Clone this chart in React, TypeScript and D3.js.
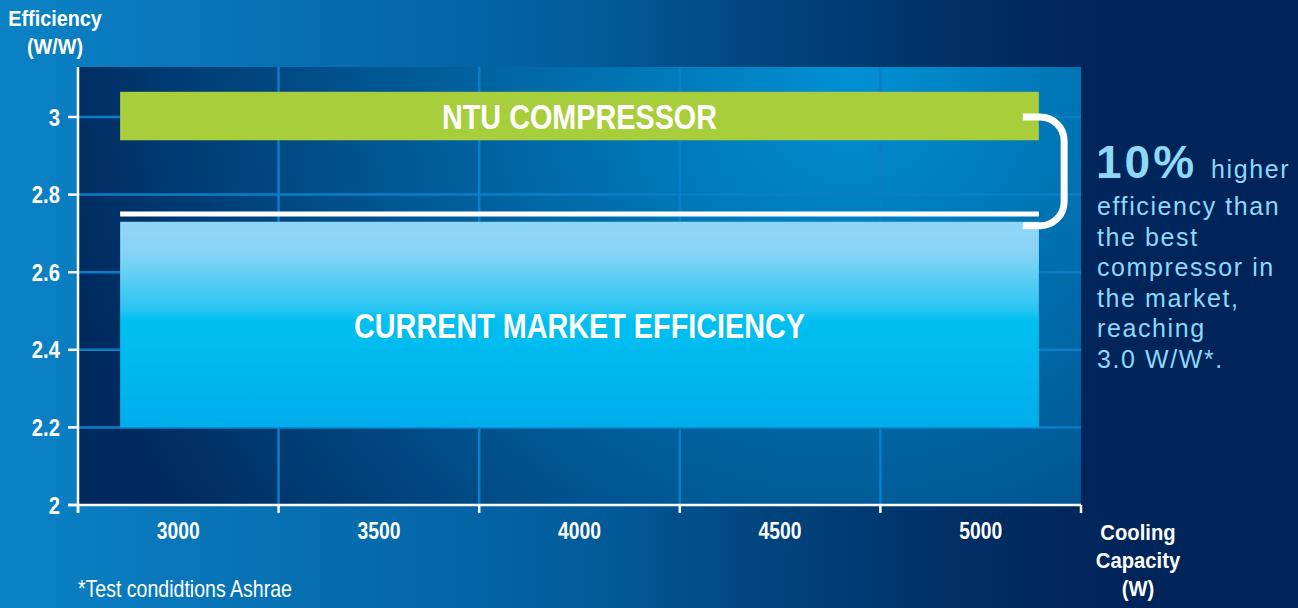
import * as d3 from "d3";
import React from "react";

// chart values
const xEdges = [2750, 3250, 3750, 4250, 4750, 5250]; // tick marks / grid
const xLabels = [3000, 3500, 4000, 4500, 5000];
const yTicks = [2, 2.2, 2.4, 2.6, 2.8, 3];
const barNames = ["CURRENT MARKET EFFICIENCY", "NTU COMPRESSOR"];
const barLow = [2.2, 2.94];
const barHigh = [2.73, 3.065];
const barFrom = [2855, 2855];
const barTo = [5145, 5145];
const bestMarket = 2.75;
const bracketTop = 3.0;
const bracketBottom = 2.72;
const noteLines = [
  "efficiency than",
  "the best",
  "compressor in",
  "the market,",
  "reaching",
  "3.0 W/W*.",
];

const W = 1298;
const H = 608;
const margin = { l: 78, r: 217, t: 67, b: 103 };
const font = "'Liberation Sans', Arial, sans-serif";

// condensed text: no narrow face installed, so squeeze horizontally
function Cond(props: {
  x: number;
  y: number;
  sx: number;
  size: number;
  anchor?: string;
  bold?: boolean;
  children: React.ReactNode;
}) {
  return (
    <text
      transform={`translate(${props.x},${props.y}) scale(${props.sx},1)`}
      textAnchor={props.anchor || "start"}
      fill="#fff"
      fontFamily={font}
      fontWeight={props.bold === false ? "normal" : "bold"}
      fontSize={props.size}
    >
      {props.children}
    </text>
  );
}

export default function App() {
  const x = d3.scaleLinear().domain([2750, 5250]).range([margin.l, W - margin.r]);
  const y = d3.scaleLinear().domain([2, 3]).range([H - margin.b, 117]);
  const plotTop = margin.t;
  const plotBottom = y(2);

  const bx0 = x(5105);
  const bx1 = x(5208);
  const by0 = y(bracketTop);
  const by1 = y(bracketBottom);
  const rad = 24;
  const bracket = d3.path();
  bracket.moveTo(bx0, by0);
  bracket.lineTo(bx1 - rad, by0);
  bracket.arcTo(bx1, by0, bx1, by0 + rad, rad);
  bracket.lineTo(bx1, by1 - rad);
  bracket.arcTo(bx1, by1, bx1 - rad, by1, rad);
  bracket.lineTo(bx0, by1);

  return (
    <svg width={W} height={H} style={{ display: "block", position: "absolute", left: 0, top: 0 }}>
      <defs>
        <linearGradient id="page-bg" x1="0" y1="0" x2="1" y2="0">
          <stop offset="0" stopColor="#0b82c6" />
          <stop offset="0.25" stopColor="#066eb0" />
          <stop offset="0.45" stopColor="#035c9c" />
          <stop offset="0.6" stopColor="#01437c" />
          <stop offset="0.75" stopColor="#002e64" />
          <stop offset="0.85" stopColor="#00255a" />
          <stop offset="1" stopColor="#00245a" />
        </linearGradient>
        <radialGradient id="plot-bg" gradientUnits="userSpaceOnUse" cx="850" cy="80" r="800">
          <stop offset="0" stopColor="#0090d4" />
          <stop offset="0.35" stopColor="#006eac" />
          <stop offset="0.65" stopColor="#00508c" />
          <stop offset="1" stopColor="#002a5e" />
        </radialGradient>
        <linearGradient id="market" x1="0" y1="0" x2="0" y2="1">
          <stop offset="0" stopColor="#8dd6f7" />
          <stop offset="0.15" stopColor="#88d4f6" />
          <stop offset="0.42" stopColor="#2ac6f3" />
          <stop offset="0.48" stopColor="#00c0f0" />
          <stop offset="1" stopColor="#00adeb" />
        </linearGradient>
      </defs>
      <rect width={W} height={H} fill="url(#page-bg)" />

      {/* plot area */}
      <rect x={margin.l} y={plotTop} width={x(5250) - margin.l} height={plotBottom - plotTop} fill="url(#plot-bg)" />
      {yTicks.slice(1).map((t) => (
        <line key={"gy" + t} x1={margin.l} x2={x(5250)} y1={y(t)} y2={y(t)} stroke="#0a7ec6" strokeWidth={2.5} />
      ))}
      {xEdges.slice(1, -1).map((t) => (
        <line key={"gx" + t} x1={x(t)} x2={x(t)} y1={plotTop} y2={plotBottom} stroke="#0a7ec6" strokeWidth={2.5} />
      ))}

      {/* bars */}
      {barNames.map((name, i) => (
        <rect
          key={name}
          x={x(barFrom[i])}
          width={x(barTo[i]) - x(barFrom[i])}
          y={y(barHigh[i])}
          height={y(barLow[i]) - y(barHigh[i])}
          fill={i === 0 ? "url(#market)" : "#a8ce3b"}
        />
      ))}
      <line x1={x(barFrom[0])} x2={x(barTo[0])} y1={y(bestMarket)} y2={y(bestMarket)} stroke="#fff" strokeWidth={5} />
      {barNames.map((name, i) => (
        <Cond key={"t" + name} x={x(4000)} y={(y(barHigh[i]) + y(barLow[i])) / 2 + 13} sx={0.8} size={36} anchor="middle">
          {name}
        </Cond>
      ))}

      {/* bracket */}
      <path d={bracket.toString()} fill="none" stroke="#fff" strokeWidth={7} />

      {/* axes */}
      <line x1={margin.l} x2={margin.l} y1={plotTop} y2={plotBottom + 8} stroke="#fff" strokeWidth={2.5} />
      <line x1={margin.l - 10} x2={x(5250)} y1={plotBottom} y2={plotBottom} stroke="#fff" strokeWidth={2.5} />
      {yTicks.map((t) => (
        <g key={"yt" + t}>
          <line x1={margin.l - 10} x2={margin.l} y1={y(t)} y2={y(t)} stroke="#fff" strokeWidth={2.5} />
          <Cond x={60} y={y(t) + 8.5} sx={0.88} size={23} anchor="end">
            {d3.format("~g")(t)}
          </Cond>
        </g>
      ))}
      {xEdges.map((t) => (
        <line key={"xt" + t} x1={x(t)} x2={x(t)} y1={plotBottom} y2={plotBottom + 8} stroke="#fff" strokeWidth={2.5} />
      ))}
      {xLabels.map((t) => (
        <Cond key={"xl" + t} x={x(t)} y={539} sx={0.84} size={23} anchor="middle">
          {t}
        </Cond>
      ))}

      {/* axis titles */}
      <Cond x={55} y={26} sx={0.9} size={22} anchor="middle">Efficiency</Cond>
      <Cond x={55} y={54} sx={0.9} size={22} anchor="middle">(W/W)</Cond>
      <Cond x={1138} y={540} sx={0.92} size={22} anchor="middle">Cooling</Cond>
      <Cond x={1138} y={568} sx={0.92} size={22} anchor="middle">Capacity</Cond>
      <Cond x={1138} y={596} sx={0.92} size={22} anchor="middle">(W)</Cond>
      <Cond x={78} y={597} sx={0.85} size={23} bold={false}>*Test condidtions Ashrae</Cond>

      {/* annotation */}
      <text x={1096} y={178} fill="#8ed8f8" fontFamily={font}>
        <tspan fontWeight="900" fontSize={46} letterSpacing={3}>10%</tspan>
        <tspan fontSize={25} letterSpacing={1.6} dx={14}>higher</tspan>
      </text>
      {noteLines.map((s, i) => (
        <text key={s} x={1097} y={215 + i * 30.6} fill="#8ed8f8" fontFamily={font} fontSize={25} letterSpacing={1.6}>
          {s}
        </text>
      ))}
    </svg>
  );
}
